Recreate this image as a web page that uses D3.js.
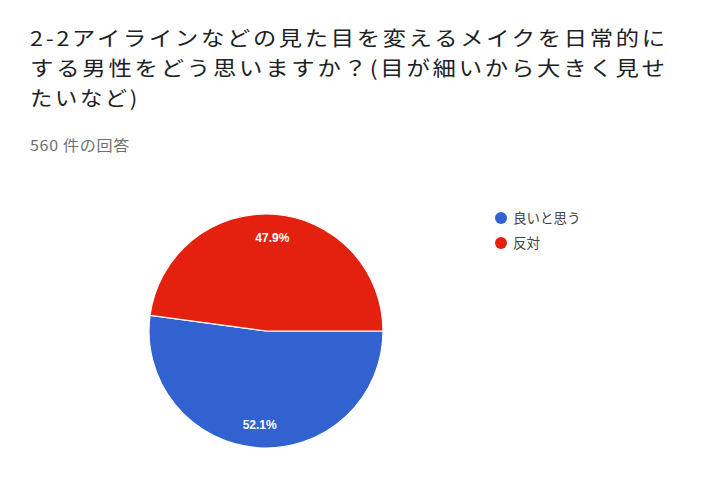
<!DOCTYPE html>
<html>
<head>
<meta charset="utf-8">
<script src="https://cdn.jsdelivr.net/npm/d3@7"></script>
<style>
  html, body { margin: 0; padding: 0; background: #fff; }
  svg { display: block; }
</style>
</head>
<body>
<div id="chart"></div>
<script>
// chart data
var titleLines = [
  "2-2アイラインなどの見た目を変えるメイクを日常的に",
  "する男性をどう思いますか？(目が細いから大きく見せ",
  "たいなど)"
];
var subtitle = "560 件の回答";
var categories = ["良いと思う", "反対"];
var counts = [292, 268];
var colors = ["#3262cf", "#e4200e"];

var width = 724; // page size
var height = 504;
var cx = 266, cy = 331, radius = 117;

var svg = d3.select("#chart")
  .append("svg")
  .attr("width", width)
  .attr("height", height);

// widen a text (inside its own g) to the width seen in the picture
function fitWidth(node, want, x, y) {
  var have = node.getComputedTextLength();
  var sx = want / have;
  d3.select(node.parentNode)
    .attr("transform", "translate(" + x + "," + y + ") scale(" + sx + ",1)");
}

// title lines
var titleWidths = [638, 638, 110];
svg.selectAll(".title")
  .data(titleLines)
  .enter()
  .append("g")
  .attr("class", "title")
  .append("text")
  .style("font-family", "'Noto Sans CJK JP', 'Noto Sans', sans-serif")
  .style("font-size", "20.5px")
  .style("letter-spacing", "2.4px")
  .style("fill", "#202124")
  .text(function(d) { return d; })
  .each(function(d, i) { fitWidth(this, titleWidths[i], 30, 46 + i * 30); });

var sub = svg.append("g")
  .append("text")
  .style("font-family", "'Noto Sans CJK JP', 'Noto Sans', sans-serif")
  .style("font-size", "14.5px")
  .style("letter-spacing", "0.6px")
  .style("fill", "#6f6f6f")
  .text(subtitle);
fitWidth(sub.node(), 100, 30, 151);

// pie, first slice starts at 3 o'clock and runs clockwise
var total = d3.sum(counts);
var pie = d3.pie()
  .value(function(d) { return d; })
  .sort(null)
  .startAngle(Math.PI / 2)
  .endAngle(Math.PI / 2 + 2 * Math.PI);

var arc = d3.arc()
  .innerRadius(0)
  .outerRadius(radius);

var labelArc = d3.arc()
  .innerRadius(radius * 0.8)
  .outerRadius(radius * 0.8);

var g = svg.append("g")
  .attr("transform", "translate(" + cx + "," + cy + ")");

var slices = pie(counts);

g.selectAll("path")
  .data(slices)
  .enter()
  .append("path")
  .attr("d", arc)
  .attr("fill", function(d, i) { return colors[i]; })
  .attr("stroke", "#fff")
  .attr("stroke-width", 1.2);

g.selectAll(".pct")
  .data(slices)
  .enter()
  .append("text")
  .attr("class", "pct")
  .attr("transform", function(d) { return "translate(" + labelArc.centroid(d) + ")"; })
  .attr("text-anchor", "middle")
  .attr("dy", "0.35em")
  .style("font-family", "'Liberation Sans', Arial, sans-serif")
  .style("font-size", "12px")
  .style("font-weight", "bold")
  .style("fill", "#fff")
  .text(function(d) { return (d.data / total * 100).toFixed(1) + "%"; });

// legend
var legend = svg.selectAll(".legend")
  .data(categories)
  .enter()
  .append("g")
  .attr("class", "legend")
  .attr("transform", function(d, i) { return "translate(501," + (218 + i * 25) + ")"; });

legend.append("circle")
  .attr("r", 6)
  .attr("fill", function(d, i) { return colors[i]; });

legend.append("text")
  .attr("x", 12)
  .attr("dy", "0.35em")
  .style("font-family", "'Noto Sans CJK JP', sans-serif")
  .style("font-size", "13.5px")
  .style("fill", "#444")
  .text(function(d) { return d; });
</script>
</body>
</html>
